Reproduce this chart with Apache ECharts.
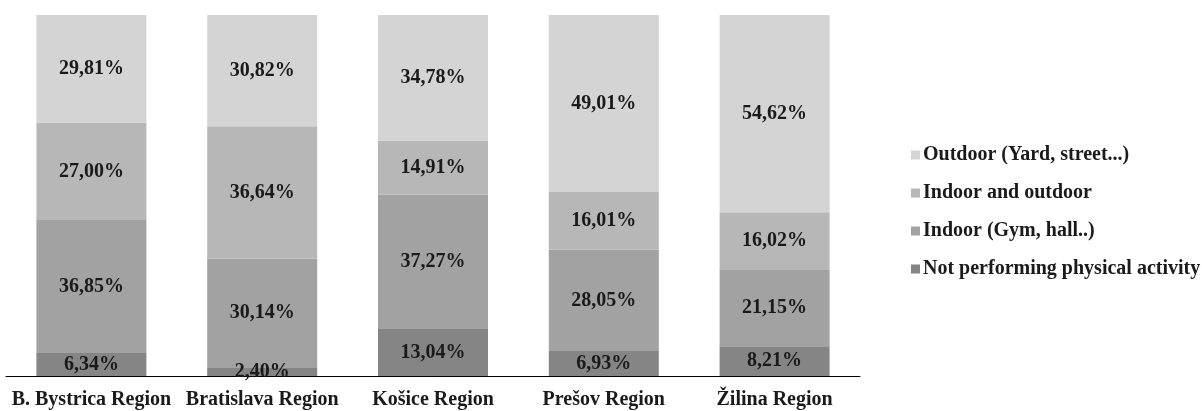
<!DOCTYPE html>
<html>
<head>
<meta charset="utf-8">
<script src="https://cdn.jsdelivr.net/npm/echarts@6/dist/echarts.min.js"></script>
<style>
  html, body { margin: 0; padding: 0; background: #ffffff; }
  #chart { width: 1202px; height: 411px; }
</style>
</head>
<body>
<div id="chart"></div>
<script>
// Regions on the x axis
const regions = ['B. Bystrica Region', 'Bratislava Region', 'Košice Region', 'Prešov Region', 'Žilina Region'];

// Share of respondents (%) by place of physical activity, stacked bottom to top
const notPerforming = [6.34, 2.40, 13.04, 6.93, 8.21];
const indoor = [36.85, 30.14, 37.27, 28.05, 21.15];
const indoorOutdoor = [27.00, 36.64, 14.91, 16.01, 16.02];
const outdoor = [29.81, 30.82, 34.78, 49.01, 54.62];

const seriesNames = ['Not performing physical activity', 'Indoor (Gym, hall..)', 'Indoor and outdoor', 'Outdoor (Yard, street...)'];
const seriesValues = [notPerforming, indoor, indoorOutdoor, outdoor];
const seriesColors = ['#858585', '#a2a2a2', '#b7b7b7', '#d4d4d4'];

const FONT = '"Liberation Serif", "Times New Roman", serif';

const fmt = v => v.toFixed(2).replace('.', ',') + '%';

const chart = echarts.init(document.getElementById('chart'), null, { renderer: 'canvas' });

chart.setOption({
  animation: false,
  backgroundColor: '#ffffff',
  grid: { left: 6, right: 342, top: 15, bottom: 35, containLabel: false },
  legend: {
    orient: 'vertical',
    left: 906,
    top: 140,
    itemWidth: 9,
    itemHeight: 9,
    itemGap: 18,
    icon: 'rect',
    data: seriesNames.slice().reverse(),
    textStyle: { fontFamily: FONT, fontWeight: 'bold', fontSize: 20, color: '#1a1a1a', padding: [0, 0, 0, -2] }
  },
  xAxis: {
    type: 'category',
    data: regions,
    axisLine: { show: true, lineStyle: { color: '#000000', width: 1 } },
    axisTick: { show: false },
    axisLabel: { fontFamily: FONT, fontWeight: 'bold', fontSize: 20, color: '#1a1a1a', margin: 14, interval: 0 }
  },
  yAxis: {
    type: 'value',
    min: 0,
    max: 100,
    show: false,
    splitLine: { show: false }
  },
  series: seriesNames.map((name, i) => ({
    name,
    type: 'bar',
    stack: 'total',
    barWidth: 110,
    data: seriesValues[i],
    itemStyle: { color: seriesColors[i] },
    label: {
      show: true,
      position: 'inside',
      formatter: p => fmt(p.value),
      fontFamily: FONT,
      fontWeight: 'bold',
      fontSize: 20,
      color: '#1a1a1a'
    }
  }))
});
</script>
</body>
</html>
